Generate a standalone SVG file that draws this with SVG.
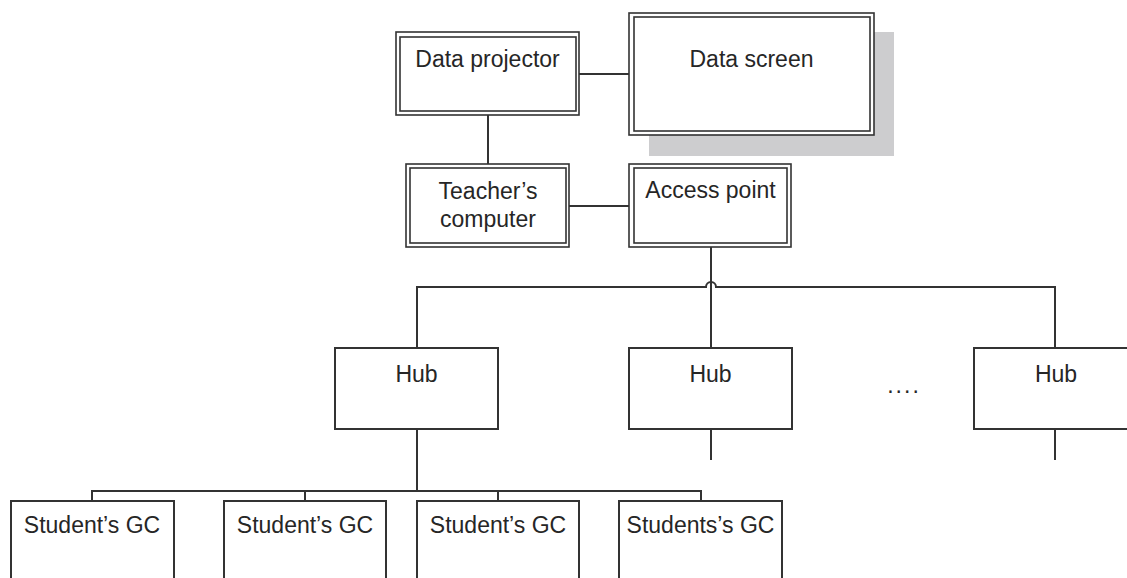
<svg xmlns="http://www.w3.org/2000/svg" width="1127" height="578" viewBox="0 0 1127 578">
<style>
  .ln{fill:none;stroke:#333;stroke-width:2}
  .box{fill:#fff;stroke:#333;stroke-width:2}
  .dbl{fill:none;stroke:#333;stroke-width:1.6}
  .t{font-family:"Liberation Sans",Arial,sans-serif;font-size:23px;fill:#262626;text-anchor:middle}
</style>
<rect width="1127" height="578" fill="#fff"/>
<g id="connectors">
  <path class="ln" d="M579 74H629"/>
  <path class="ln" d="M488 115V164"/>
  <path class="ln" d="M569 206H629"/>
  <path class="ln" d="M711 247V348"/>
  <path class="ln" d="M417 348V287H706A5 5 0 0 1 716 287H1055V348"/>
  <path class="ln" d="M417 429V491"/>
  <path class="ln" d="M711 429V460"/>
  <path class="ln" d="M1055 429V460"/>
  <path class="ln" d="M92 501V491H701V501M305 491V501M498 491V501"/>
</g>
<g id="data-projector">
  <rect class="dbl" x="396" y="32" width="183" height="83"/>
  <rect class="dbl" x="400" y="37" width="176" height="74"/>
  <text class="t" x="487.5" y="67">Data projector</text>
</g>
<g id="data-screen">
  <rect x="649" y="32" width="245" height="124" fill="#cdcdcf"/>
  <rect x="629" y="13" width="245" height="122" fill="#fff"/>
  <rect class="dbl" x="629" y="13" width="245" height="122"/>
  <rect class="dbl" x="634" y="17" width="236" height="114"/>
  <text class="t" x="751.5" y="67">Data screen</text>
</g>
<g id="teachers-computer">
  <rect class="dbl" x="406" y="164" width="163" height="83"/>
  <rect class="dbl" x="410" y="168" width="156" height="75"/>
  <text class="t" x="488" y="199">Teacher’s</text>
  <text class="t" x="488" y="227">computer</text>
</g>
<g id="access-point">
  <rect class="dbl" x="629" y="164" width="162" height="83"/>
  <rect class="dbl" x="634" y="168" width="153" height="75"/>
  <text class="t" x="710.5" y="198">Access point</text>
</g>
<g id="hub-1">
  <rect class="box" x="335" y="348" width="163" height="81"/>
  <text class="t" x="416.5" y="382">Hub</text>
</g>
<g id="hub-2">
  <rect class="box" x="629" y="348" width="163" height="81"/>
  <text class="t" x="710.5" y="382">Hub</text>
</g>
<g id="ellipsis">
  <text class="t" x="904" y="393" letter-spacing="2">....</text>
</g>
<g id="hub-3">
  <rect class="box" x="974" y="348" width="163" height="81"/>
  <text class="t" x="1056" y="382">Hub</text>
</g>
<g id="student-1">
  <rect class="box" x="11" y="501" width="163" height="100"/>
  <text class="t" x="92" y="533">Student’s GC</text>
</g>
<g id="student-2">
  <rect class="box" x="224" y="501" width="162" height="100"/>
  <text class="t" x="305" y="533">Student’s GC</text>
</g>
<g id="student-3">
  <rect class="box" x="417" y="501" width="162" height="100"/>
  <text class="t" x="498" y="533">Student’s GC</text>
</g>
<g id="student-4">
  <rect class="box" x="619" y="501" width="163" height="100"/>
  <text class="t" x="700.5" y="533">Students’s GC</text>
</g>
</svg>
